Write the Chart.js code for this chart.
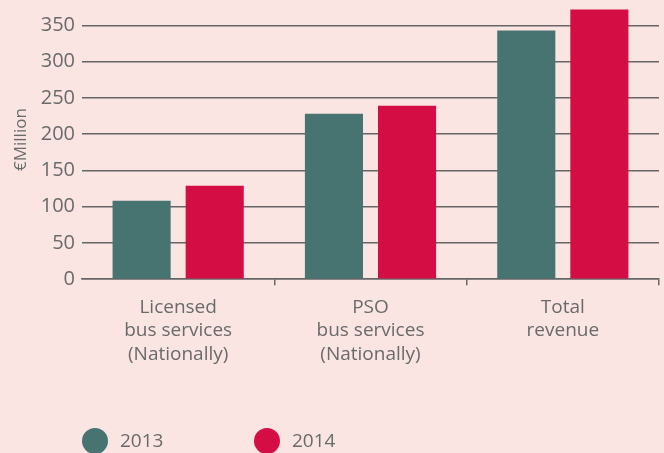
<!DOCTYPE html>
<html lang="en">
<head>
    <meta charset="UTF-8">
    <title>Bus revenue</title>
    <script src="https://cdn.jsdelivr.net/npm/chart.js"></script>
    <style>
        html, body { margin: 0; padding: 0; background: #fae5e3; }
        #wrap { width: 664px; height: 453px; }
    </style>
</head>
<body>
    <div id="wrap"><canvas id="chartBus"></canvas></div>

    <script>
        let kategori = [
            ["Licensed", "bus services", "(Nationally)"],
            ["PSO", "bus services", "(Nationally)"],
            ["Total", "revenue"]
        ];
        let tahun = ["2013", "2014"];
        let nilai2013 = [108, 228, 343];
        let nilai2014 = [129, 239, 372];
        let tickY = [0, 50, 100, 150, 200, 250, 300, 350];

        let teks = "#6a6a6a";
        let garis = "#666666";

        // legend digambar sendiri: bulatan + tahun
        let legendaBulat = {
            id: "legendaBulat",
            afterDraw(chart) {
                let ctx = chart.ctx;
                let posX = [95, 267];
                ctx.save();
                chart.data.datasets.forEach((ds, i) => {
                    ctx.beginPath();
                    ctx.arc(posX[i], 441, 13, 0, Math.PI * 2);
                    ctx.fillStyle = ds.backgroundColor;
                    ctx.fill();
                    ctx.fillStyle = teks;
                    ctx.font = "19px 'Open Sans'";
                    ctx.textBaseline = "middle";
                    ctx.fillText(ds.label, posX[i] + 25, 442);
                });
                ctx.restore();
            }
        };

        let ctx = document.getElementById("chartBus").getContext("2d");
        let chart = new Chart(ctx, {
            type: "bar",
            data: {
                labels: kategori,
                datasets: [
                    { label: tahun[0], data: nilai2013, backgroundColor: "#477370" },
                    { label: tahun[1], data: nilai2014, backgroundColor: "#d40e45" }
                ]
            },
            options: {
                responsive: true,
                maintainAspectRatio: false,
                animation: false,
                layout: { padding: { top: 0, right: 5, bottom: 76, left: 0 } },
                datasets: { bar: { categoryPercentage: 0.76, barPercentage: 0.795 } },
                plugins: {
                    legend: { display: false },
                    tooltip: { enabled: false }
                },
                scales: {
                    x: {
                        grid: {
                            drawOnChartArea: false,
                            drawTicks: true,
                            tickLength: 6,
                            lineWidth: 1.5,
                            color: c => (c.index === 0 || c.index === kategori.length) ? "rgba(0,0,0,0)" : garis
                        },
                        border: { display: true, color: garis, width: 1.5 },
                        ticks: {
                            color: teks,
                            padding: 10,
                            font: { family: "'Open Sans'", size: 19, lineHeight: 1.26 }
                        }
                    },
                    y: {
                        z: 1,
                        min: 0,
                        max: 385,
                        afterBuildTicks: s => { s.ticks = tickY.map(v => ({ value: v })); },
                        afterFit: s => { s.width = 82; s.paddingTop = 0; s.paddingBottom = 0; },
                        grid: { drawTicks: false, color: garis, lineWidth: 1.5 },
                        border: { display: false },
                        ticks: {
                            color: teks,
                            padding: 7,
                            font: { family: "'Open Sans'", size: 20 }
                        },
                        title: {
                            display: true,
                            text: "€Million",
                            color: teks,
                            padding: { top: 11, bottom: 0 },
                            font: { family: "'Open Sans'", size: 17 }
                        }
                    }
                }
            },
            plugins: [legendaBulat]
        });
    </script>
</body>
</html>
